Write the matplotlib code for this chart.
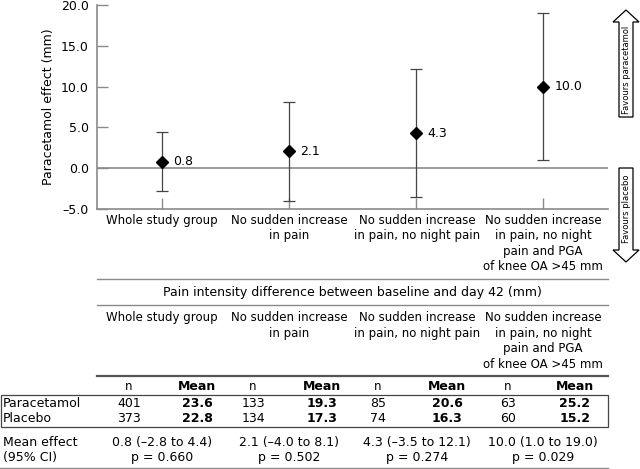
import numpy as np
import matplotlib.pyplot as plt
from matplotlib.lines import Line2D
from matplotlib.patches import Polygon, Rectangle

plt.rcParams['font.family'] = 'DejaVu Sans'

# data
groups = ["Whole study group",
          "No sudden increase\nin pain",
          "No sudden increase\nin pain, no night pain",
          "No sudden increase\nin pain, no night\npain and PGA\nof knee OA >45 mm"]
effect = [0.8, 2.1, 4.3, 10.0]
ci_low = [-2.8, -4.0, -3.5, 1.0]
ci_high = [4.4, 8.1, 12.1, 19.0]
n_para = [401, 133, 85, 63]
mean_para = [23.6, 19.3, 20.6, 25.2]
n_plac = [373, 134, 74, 60]
mean_plac = [22.8, 17.3, 16.3, 15.2]
p_vals = ["0.660", "0.502", "0.274", "0.029"]
yticks = [-5, 0, 5, 10, 15, 20]

W, H = 640, 469
fig = plt.figure(figsize=(W / 100, H / 100), dpi=100)

def fx(x):
    return x / W

def fy(y):
    return 1 - y / H

grey = '#8a8a8a'
fs = 8.5

# chart area (pixel box)
ax = fig.add_axes([fx(97), fy(209), fx(608 - 97), (209 - 5) / H])
x = np.arange(len(effect))
yerr = [np.array(effect) - np.array(ci_low), np.array(ci_high) - np.array(effect)]
ax.errorbar(x, effect, yerr=yerr, fmt='D', color='black', ms=6.5,
            ecolor='#444444', elinewidth=0.9, capsize=4.5, capthick=0.9, zorder=3)
for xi, v in zip(x, effect):
    ax.text(xi + 0.09, v, f"{v:.1f}", va='center', ha='left', fontsize=fs + 0.5)
ax.axhline(0, color=grey, lw=1.2, zorder=1)
ax.set_xlim(-0.51, 3.51)
ax.set_ylim(-5, 20)
ax.set_yticks(yticks)
ax.set_yticklabels([f"{t:.1f}".replace('-', '\u2013') for t in yticks], fontsize=fs + 0.5)
ax.set_xticks(x)
ax.set_xticklabels([])
ax.tick_params(axis='both', direction='in', length=8, color=grey, width=1)
ax.tick_params(axis='y', pad=6)
for s in ['top', 'right']:
    ax.spines[s].set_visible(False)
for s in ['left', 'bottom']:
    ax.spines[s].set_color(grey)
    ax.spines[s].set_linewidth(1.2)
ax.set_ylabel("Paracetamol effect (mm)", fontsize=fs + 0.5, labelpad=4)

cx = [162, 289, 417, 543]
for c, g in zip(cx, groups):
    fig.text(fx(c), fy(214), g, ha='center', va='top', fontsize=fs, linespacing=1.25)

# arrows on the right
def arrow(y_tail, y_tip, label):
    d = 1 if y_tip < y_tail else -1
    head = 12 * d
    pts = [(619, y_tail), (619, y_tip + head), (613, y_tip + head), (626, y_tip),
           (639, y_tip + head), (633, y_tip + head), (633, y_tail)]
    poly = Polygon([(fx(px), fy(py)) for px, py in pts], closed=True,
                   transform=fig.transFigure, fill=False, ec='black', lw=0.9)
    fig.patches.append(poly)
    mid = (y_tail + y_tip + head) / 2
    fig.text(fx(626.5), fy(mid), label, rotation=90, ha='center', va='center', fontsize=6)

arrow(117, 10, "Favours paracetamol")
arrow(168, 262, "Favours placebo")

# table
def hline(y, x0, x1, color=grey, lw=1.0):
    fig.add_artist(Line2D([fx(x0), fx(x1)], [fy(y), fy(y)], color=color, lw=lw))

hline(279, 97, 608)
fig.text(fx(352), fy(292), "Pain intensity difference between baseline and day 42 (mm)",
         ha='center', va='center', fontsize=fs + 0.5)
hline(305, 97, 608)
for c, g in zip(cx, groups):
    fig.text(fx(c), fy(311), g, ha='center', va='top', fontsize=fs, linespacing=1.25)
hline(376, 97, 608, color='#555555', lw=1.6)

n_x = [129, 253, 378, 508]
m_x = [197, 322, 447, 575]
for nx, mx in zip(n_x, m_x):
    fig.text(fx(nx), fy(386), "n", ha='center', va='center', fontsize=fs)
    fig.text(fx(mx), fy(386), "Mean", ha='center', va='center', fontsize=fs + 0.5, weight='bold')

fig.add_artist(Rectangle((fx(0.5), fy(427)), fx(607.5), (427 - 395) / H,
                         transform=fig.transFigure, fill=False, ec='#444444', lw=0.9))
fig.text(fx(3), fy(403), "Paracetamol", ha='left', va='center', fontsize=fs + 0.5)
fig.text(fx(3), fy(418), "Placebo", ha='left', va='center', fontsize=fs + 0.5)
for i in range(4):
    fig.text(fx(n_x[i]), fy(403), str(n_para[i]), ha='center', va='center', fontsize=fs + 0.5)
    fig.text(fx(n_x[i]), fy(418), str(n_plac[i]), ha='center', va='center', fontsize=fs + 0.5)
    fig.text(fx(m_x[i]), fy(403), f"{mean_para[i]:.1f}", ha='center', va='center',
             fontsize=fs + 0.5, weight='bold')
    fig.text(fx(m_x[i]), fy(418), f"{mean_plac[i]:.1f}", ha='center', va='center',
             fontsize=fs + 0.5, weight='bold')

fig.text(fx(3), fy(442), "Mean effect", ha='left', va='center', fontsize=fs + 0.5)
fig.text(fx(3), fy(457), "(95% CI)", ha='left', va='center', fontsize=fs + 0.5)
for i in range(4):
    ci = f"{effect[i]:.1f} ({ci_low[i]:.1f} to {ci_high[i]:.1f})".replace('-', '\u2013')
    fig.text(fx(cx[i]), fy(442), ci, ha='center', va='center', fontsize=fs + 0.5)
    fig.text(fx(cx[i]), fy(457), f"p = {p_vals[i]}", ha='center', va='center', fontsize=fs + 0.5)
hline(468, 0, 608)

fig.savefig("out.png", dpi=100)
